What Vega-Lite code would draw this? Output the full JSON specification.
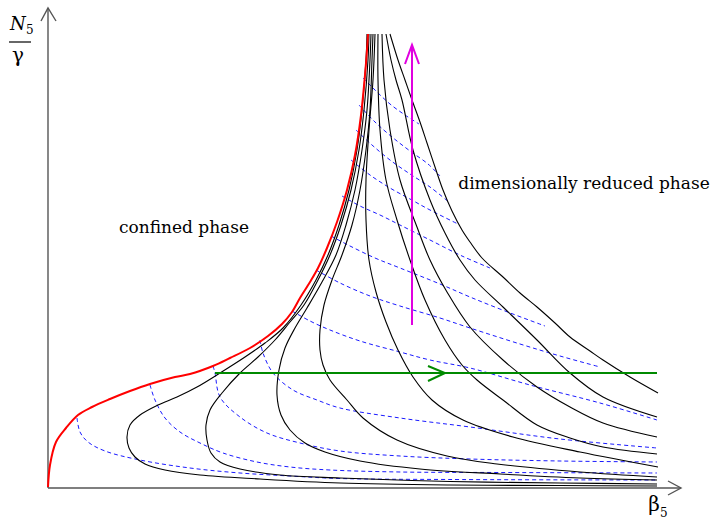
{
  "$schema": "https://vega.github.io/schema/vega-lite/v6.json",
  "width": 633,
  "height": 480,
  "autosize": {"type": "none"},
  "padding": {"left": 48, "top": 8, "right": 31, "bottom": 32},
  "background": "white",
  "config": {"view": {"stroke": null}},
  "encoding": {
    "x": {"field": "x", "type": "quantitative", "scale": {"domain": [0, 633], "nice": false, "zero": false}, "axis": null},
    "y": {"field": "y", "type": "quantitative", "scale": {"domain": [0, 480], "nice": false, "zero": false}, "axis": null}
  },
  "datasets": {
    "frame": [
      {"c": "xaxis", "x": 0, "y": 0}, {"c": "xaxis", "x": 633, "y": 0},
      {"c": "xhead", "x": 620, "y": 7}, {"c": "xhead", "x": 633, "y": 0}, {"c": "xhead", "x": 620, "y": -7},
      {"c": "yaxis", "x": 0, "y": 0}, {"c": "yaxis", "x": 0, "y": 480},
      {"c": "yhead", "x": -7, "y": 467}, {"c": "yhead", "x": 0, "y": 480}, {"c": "yhead", "x": 8, "y": 467}
    ],
    "flows": [
      {"c": "C1", "x": 319, "y": 454}, {"c": "C1", "x": 318, "y": 428}, {"c": "C1", "x": 314, "y": 378}, {"c": "C1", "x": 309, "y": 338}, {"c": "C1", "x": 301, "y": 298}, {"c": "C1", "x": 291, "y": 263}, {"c": "C1", "x": 280, "y": 233}, {"c": "C1", "x": 268, "y": 208}, {"c": "C1", "x": 253, "y": 183}, {"c": "C1", "x": 235, "y": 160}, {"c": "C1", "x": 217, "y": 145}, {"c": "C1", "x": 197, "y": 131}, {"c": "C1", "x": 172, "y": 115}, {"c": "C1", "x": 149, "y": 101}, {"c": "C1", "x": 129, "y": 91}, {"c": "C1", "x": 110, "y": 83}, {"c": "C1", "x": 92, "y": 73}, {"c": "C1", "x": 82, "y": 63}, {"c": "C1", "x": 79, "y": 51}, {"c": "C1", "x": 81, "y": 40}, {"c": "C1", "x": 87, "y": 31}, {"c": "C1", "x": 97, "y": 24}, {"c": "C1", "x": 117, "y": 18}, {"c": "C1", "x": 152, "y": 13}, {"c": "C1", "x": 212, "y": 9}, {"c": "C1", "x": 292, "y": 5}, {"c": "C1", "x": 402, "y": 3}, {"c": "C1", "x": 512, "y": 2.5}, {"c": "C1", "x": 609, "y": 2},
      {"c": "C2", "x": 321, "y": 454}, {"c": "C2", "x": 320, "y": 428}, {"c": "C2", "x": 316, "y": 378}, {"c": "C2", "x": 311, "y": 338}, {"c": "C2", "x": 303, "y": 298}, {"c": "C2", "x": 293, "y": 263}, {"c": "C2", "x": 282, "y": 233}, {"c": "C2", "x": 270, "y": 208}, {"c": "C2", "x": 256, "y": 183}, {"c": "C2", "x": 242, "y": 166}, {"c": "C2", "x": 227, "y": 148}, {"c": "C2", "x": 210, "y": 131}, {"c": "C2", "x": 192, "y": 115}, {"c": "C2", "x": 174, "y": 95}, {"c": "C2", "x": 162, "y": 78}, {"c": "C2", "x": 158, "y": 63}, {"c": "C2", "x": 159, "y": 48}, {"c": "C2", "x": 163, "y": 35}, {"c": "C2", "x": 172, "y": 26}, {"c": "C2", "x": 192, "y": 19}, {"c": "C2", "x": 232, "y": 13}, {"c": "C2", "x": 292, "y": 10}, {"c": "C2", "x": 402, "y": 6.5}, {"c": "C2", "x": 512, "y": 5}, {"c": "C2", "x": 609, "y": 4},
      {"c": "C3", "x": 323, "y": 454}, {"c": "C3", "x": 322, "y": 428}, {"c": "C3", "x": 319, "y": 378}, {"c": "C3", "x": 314, "y": 338}, {"c": "C3", "x": 307, "y": 298}, {"c": "C3", "x": 298, "y": 263}, {"c": "C3", "x": 288, "y": 233}, {"c": "C3", "x": 274, "y": 206}, {"c": "C3", "x": 259, "y": 180}, {"c": "C3", "x": 247, "y": 160}, {"c": "C3", "x": 237, "y": 140}, {"c": "C3", "x": 231, "y": 118}, {"c": "C3", "x": 229, "y": 93}, {"c": "C3", "x": 233, "y": 73}, {"c": "C3", "x": 242, "y": 58}, {"c": "C3", "x": 257, "y": 45}, {"c": "C3", "x": 277, "y": 36}, {"c": "C3", "x": 312, "y": 27}, {"c": "C3", "x": 372, "y": 19}, {"c": "C3", "x": 452, "y": 14}, {"c": "C3", "x": 532, "y": 10}, {"c": "C3", "x": 609, "y": 8},
      {"c": "C4", "x": 325, "y": 454}, {"c": "C4", "x": 324, "y": 428}, {"c": "C4", "x": 322, "y": 378}, {"c": "C4", "x": 318, "y": 338}, {"c": "C4", "x": 312, "y": 298}, {"c": "C4", "x": 304, "y": 263}, {"c": "C4", "x": 294, "y": 233}, {"c": "C4", "x": 284, "y": 208}, {"c": "C4", "x": 276, "y": 183}, {"c": "C4", "x": 272, "y": 158}, {"c": "C4", "x": 272, "y": 138}, {"c": "C4", "x": 275, "y": 123}, {"c": "C4", "x": 282, "y": 108}, {"c": "C4", "x": 299, "y": 88}, {"c": "C4", "x": 315, "y": 70}, {"c": "C4", "x": 349, "y": 48}, {"c": "C4", "x": 399, "y": 32}, {"c": "C4", "x": 449, "y": 24}, {"c": "C4", "x": 532, "y": 16}, {"c": "C4", "x": 609, "y": 11},
      {"c": "B5", "x": 327, "y": 454}, {"c": "B5", "x": 325, "y": 408}, {"c": "B5", "x": 321, "y": 358}, {"c": "B5", "x": 318, "y": 308}, {"c": "B5", "x": 318, "y": 268}, {"c": "B5", "x": 321, "y": 228}, {"c": "B5", "x": 328, "y": 196}, {"c": "B5", "x": 338, "y": 166}, {"c": "B5", "x": 350, "y": 138}, {"c": "B5", "x": 365, "y": 111}, {"c": "B5", "x": 384, "y": 88}, {"c": "B5", "x": 415, "y": 68}, {"c": "B5", "x": 465, "y": 51}, {"c": "B5", "x": 532, "y": 36}, {"c": "B5", "x": 610, "y": 21},
      {"c": "B4", "x": 330, "y": 454}, {"c": "B4", "x": 330, "y": 408}, {"c": "B4", "x": 332, "y": 358}, {"c": "B4", "x": 338, "y": 308}, {"c": "B4", "x": 349, "y": 268}, {"c": "B4", "x": 362, "y": 228}, {"c": "B4", "x": 377, "y": 188}, {"c": "B4", "x": 397, "y": 148}, {"c": "B4", "x": 414, "y": 123}, {"c": "B4", "x": 429, "y": 108}, {"c": "B4", "x": 455, "y": 88}, {"c": "B4", "x": 489, "y": 63}, {"c": "B4", "x": 522, "y": 50}, {"c": "B4", "x": 555, "y": 41}, {"c": "B4", "x": 609, "y": 34},
      {"c": "B3", "x": 334, "y": 454}, {"c": "B3", "x": 336, "y": 408}, {"c": "B3", "x": 342, "y": 358}, {"c": "B3", "x": 352, "y": 308}, {"c": "B3", "x": 369, "y": 261}, {"c": "B3", "x": 382, "y": 228}, {"c": "B3", "x": 399, "y": 196}, {"c": "B3", "x": 422, "y": 161}, {"c": "B3", "x": 455, "y": 128}, {"c": "B3", "x": 489, "y": 101}, {"c": "B3", "x": 522, "y": 81}, {"c": "B3", "x": 555, "y": 65}, {"c": "B3", "x": 609, "y": 51},
      {"c": "B2", "x": 338, "y": 454}, {"c": "B2", "x": 343, "y": 428}, {"c": "B2", "x": 348, "y": 408}, {"c": "B2", "x": 354, "y": 388}, {"c": "B2", "x": 365, "y": 338}, {"c": "B2", "x": 382, "y": 288}, {"c": "B2", "x": 397, "y": 255}, {"c": "B2", "x": 412, "y": 228}, {"c": "B2", "x": 427, "y": 208}, {"c": "B2", "x": 455, "y": 181}, {"c": "B2", "x": 489, "y": 148}, {"c": "B2", "x": 522, "y": 115}, {"c": "B2", "x": 555, "y": 91}, {"c": "B2", "x": 609, "y": 71},
      {"c": "B1", "x": 342, "y": 454}, {"c": "B1", "x": 350, "y": 428}, {"c": "B1", "x": 357, "y": 408}, {"c": "B1", "x": 364, "y": 388}, {"c": "B1", "x": 372, "y": 366}, {"c": "B1", "x": 379, "y": 345}, {"c": "B1", "x": 387, "y": 321}, {"c": "B1", "x": 395, "y": 298}, {"c": "B1", "x": 404, "y": 277}, {"c": "B1", "x": 414, "y": 258}, {"c": "B1", "x": 422, "y": 246}, {"c": "B1", "x": 434, "y": 230}, {"c": "B1", "x": 455, "y": 211}, {"c": "B1", "x": 472, "y": 195}, {"c": "B1", "x": 489, "y": 181}, {"c": "B1", "x": 507, "y": 165}, {"c": "B1", "x": 522, "y": 151}, {"c": "B1", "x": 542, "y": 137}, {"c": "B1", "x": 555, "y": 128}, {"c": "B1", "x": 582, "y": 111}, {"c": "B1", "x": 610, "y": 95}
    ],
    "levels": [
      {"c": "E1", "x": 315, "y": 410}, {"c": "E1", "x": 327, "y": 398}, {"c": "E1", "x": 342, "y": 384}, {"c": "E1", "x": 357, "y": 373}, {"c": "E1", "x": 371, "y": 364},
      {"c": "E2", "x": 311, "y": 383}, {"c": "E2", "x": 327, "y": 366}, {"c": "E2", "x": 344, "y": 351}, {"c": "E2", "x": 362, "y": 337}, {"c": "E2", "x": 380, "y": 324}, {"c": "E2", "x": 392, "y": 312},
      {"c": "E3", "x": 308, "y": 358}, {"c": "E3", "x": 324, "y": 343}, {"c": "E3", "x": 342, "y": 328}, {"c": "E3", "x": 362, "y": 314}, {"c": "E3", "x": 382, "y": 301}, {"c": "E3", "x": 402, "y": 285},
      {"c": "E4", "x": 303, "y": 328}, {"c": "E4", "x": 322, "y": 313}, {"c": "E4", "x": 342, "y": 300}, {"c": "E4", "x": 362, "y": 289}, {"c": "E4", "x": 382, "y": 278}, {"c": "E4", "x": 410, "y": 264},
      {"c": "E5", "x": 294, "y": 292}, {"c": "E5", "x": 312, "y": 282}, {"c": "E5", "x": 332, "y": 273}, {"c": "E5", "x": 352, "y": 263}, {"c": "E5", "x": 382, "y": 248}, {"c": "E5", "x": 414, "y": 232}, {"c": "E5", "x": 442, "y": 220},
      {"c": "E6", "x": 283, "y": 252}, {"c": "E6", "x": 302, "y": 242}, {"c": "E6", "x": 327, "y": 230}, {"c": "E6", "x": 352, "y": 220}, {"c": "E6", "x": 392, "y": 204}, {"c": "E6", "x": 422, "y": 191}, {"c": "E6", "x": 457, "y": 177}, {"c": "E6", "x": 497, "y": 162},
      {"c": "E7", "x": 268, "y": 218}, {"c": "E7", "x": 292, "y": 205}, {"c": "E7", "x": 322, "y": 192}, {"c": "E7", "x": 352, "y": 182}, {"c": "E7", "x": 392, "y": 170}, {"c": "E7", "x": 422, "y": 160}, {"c": "E7", "x": 472, "y": 144}, {"c": "E7", "x": 512, "y": 132}, {"c": "E7", "x": 552, "y": 121},
      {"c": "E8", "x": 244, "y": 177}, {"c": "E8", "x": 262, "y": 167}, {"c": "E8", "x": 282, "y": 158}, {"c": "E8", "x": 312, "y": 147}, {"c": "E8", "x": 352, "y": 136}, {"c": "E8", "x": 382, "y": 128}, {"c": "E8", "x": 422, "y": 120}, {"c": "E8", "x": 482, "y": 103}, {"c": "E8", "x": 552, "y": 85}, {"c": "E8", "x": 609, "y": 68},
      {"c": "E9", "x": 212, "y": 148}, {"c": "E9", "x": 215, "y": 135}, {"c": "E9", "x": 225, "y": 115}, {"c": "E9", "x": 245, "y": 98}, {"c": "E9", "x": 269, "y": 88}, {"c": "E9", "x": 292, "y": 80}, {"c": "E9", "x": 352, "y": 70}, {"c": "E9", "x": 422, "y": 61}, {"c": "E9", "x": 512, "y": 49}, {"c": "E9", "x": 609, "y": 40},
      {"c": "E10", "x": 165, "y": 122}, {"c": "E10", "x": 167, "y": 115}, {"c": "E10", "x": 172, "y": 91}, {"c": "E10", "x": 192, "y": 71}, {"c": "E10", "x": 219, "y": 55}, {"c": "E10", "x": 252, "y": 45}, {"c": "E10", "x": 292, "y": 37}, {"c": "E10", "x": 352, "y": 32}, {"c": "E10", "x": 422, "y": 29}, {"c": "E10", "x": 512, "y": 27}, {"c": "E10", "x": 609, "y": 26},
      {"c": "E11", "x": 102, "y": 103}, {"c": "E11", "x": 107, "y": 88}, {"c": "E11", "x": 117, "y": 70}, {"c": "E11", "x": 132, "y": 56}, {"c": "E11", "x": 152, "y": 45}, {"c": "E11", "x": 175, "y": 35}, {"c": "E11", "x": 209, "y": 26}, {"c": "E11", "x": 242, "y": 21}, {"c": "E11", "x": 282, "y": 18}, {"c": "E11", "x": 352, "y": 16}, {"c": "E11", "x": 452, "y": 15.5}, {"c": "E11", "x": 609, "y": 15},
      {"c": "E12", "x": 29, "y": 70}, {"c": "E12", "x": 32, "y": 56}, {"c": "E12", "x": 40, "y": 46}, {"c": "E12", "x": 57, "y": 37}, {"c": "E12", "x": 92, "y": 28}, {"c": "E12", "x": 142, "y": 20}, {"c": "E12", "x": 192, "y": 15}, {"c": "E12", "x": 242, "y": 12}, {"c": "E12", "x": 292, "y": 9.5}, {"c": "E12", "x": 402, "y": 8.5}, {"c": "E12", "x": 609, "y": 8}
    ],
    "boundary": [
      {"x": 0, "y": 1}, {"x": 2, "y": 23}, {"x": 8, "y": 46}, {"x": 18, "y": 60}, {"x": 30, "y": 73}, {"x": 44, "y": 81}, {"x": 62, "y": 89}, {"x": 82, "y": 97}, {"x": 102, "y": 104}, {"x": 127, "y": 111}, {"x": 142, "y": 114}, {"x": 165, "y": 122}, {"x": 182, "y": 130}, {"x": 202, "y": 140}, {"x": 220, "y": 152}, {"x": 234, "y": 164}, {"x": 244, "y": 176}, {"x": 252, "y": 190}, {"x": 262, "y": 206}, {"x": 270, "y": 220}, {"x": 279, "y": 240}, {"x": 289, "y": 266}, {"x": 299, "y": 298}, {"x": 307, "y": 333}, {"x": 313, "y": 373}, {"x": 317, "y": 413}, {"x": 319, "y": 438}, {"x": 320, "y": 454}
    ],
    "path_beta": [
      {"c": "line", "x": 167, "y": 115}, {"c": "line", "x": 609, "y": 115},
      {"c": "head", "x": 380, "y": 122}, {"c": "head", "x": 397, "y": 115}, {"c": "head", "x": 380, "y": 107}
    ],
    "path_n": [
      {"c": "line", "x": 364, "y": 163}, {"c": "line", "x": 364, "y": 443},
      {"c": "head", "x": 357, "y": 424}, {"c": "head", "x": 364, "y": 443}, {"c": "head", "x": 371, "y": 424}
    ],
    "fracbar": [
      {"x": -39, "y": 446}, {"x": -17, "y": 446}
    ]
  },
  "layer": [
    {
      "data": {"name": "frame"},
      "mark": {"type": "line", "stroke": "#555555", "strokeWidth": 1.4},
      "encoding": {"detail": {"field": "c"}, "order": {"value": null}}
    },
    {
      "data": {"name": "levels"},
      "mark": {"type": "line", "interpolate": "catmull-rom", "stroke": "#1a1aff", "strokeWidth": 1, "strokeDash": [4, 3]},
      "encoding": {"detail": {"field": "c"}, "order": {"value": null}}
    },
    {
      "data": {"name": "flows"},
      "mark": {"type": "line", "interpolate": "catmull-rom", "stroke": "#000000", "strokeWidth": 1.1},
      "encoding": {"detail": {"field": "c"}, "order": {"value": null}}
    },
    {
      "data": {"name": "boundary"},
      "mark": {"type": "line", "interpolate": "catmull-rom", "stroke": "#ff0000", "strokeWidth": 2},
      "encoding": {"order": {"value": null}}
    },
    {
      "data": {"name": "path_beta"},
      "mark": {"type": "line", "stroke": "#008a00", "strokeWidth": 2},
      "encoding": {"detail": {"field": "c"}, "order": {"value": null}}
    },
    {
      "data": {"name": "path_n"},
      "mark": {"type": "line", "stroke": "#e000e0", "strokeWidth": 2},
      "encoding": {"detail": {"field": "c"}, "order": {"value": null}}
    },
    {
      "data": {"name": "fracbar"},
      "mark": {"type": "line", "stroke": "#000000", "strokeWidth": 1.2},
      "encoding": {"order": {"value": null}}
    },
    {
      "data": {"values": [
        {"x": 136, "y": 260, "t": "confined phase"},
        {"x": 536, "y": 304, "t": "dimensionally reduced phase"}
      ]},
      "mark": {"type": "text", "font": "DejaVu Serif", "fontSize": 17, "align": "center", "baseline": "middle", "color": "#000000"},
      "encoding": {"text": {"field": "t"}}
    },
    {
      "data": {"values": [{"x": -38, "y": 458, "t": "N"}]},
      "mark": {"type": "text", "font": "DejaVu Serif", "fontStyle": "italic", "fontSize": 18, "align": "left", "baseline": "alphabetic", "color": "#000000"},
      "encoding": {"text": {"field": "t"}}
    },
    {
      "data": {"values": [{"x": -22, "y": 454, "t": "5"}, {"x": 612, "y": -29, "t": "5"}]},
      "mark": {"type": "text", "font": "DejaVu Serif", "fontSize": 12, "align": "left", "baseline": "alphabetic", "color": "#000000"},
      "encoding": {"text": {"field": "t"}}
    },
    {
      "data": {"values": [{"x": -30, "y": 426, "t": "γ"}, {"x": 606, "y": -23, "t": "β"}]},
      "mark": {"type": "text", "font": "DejaVu Serif", "fontSize": 20, "align": "center", "baseline": "alphabetic", "color": "#000000"},
      "encoding": {"text": {"field": "t"}}
    }
  ]
}
